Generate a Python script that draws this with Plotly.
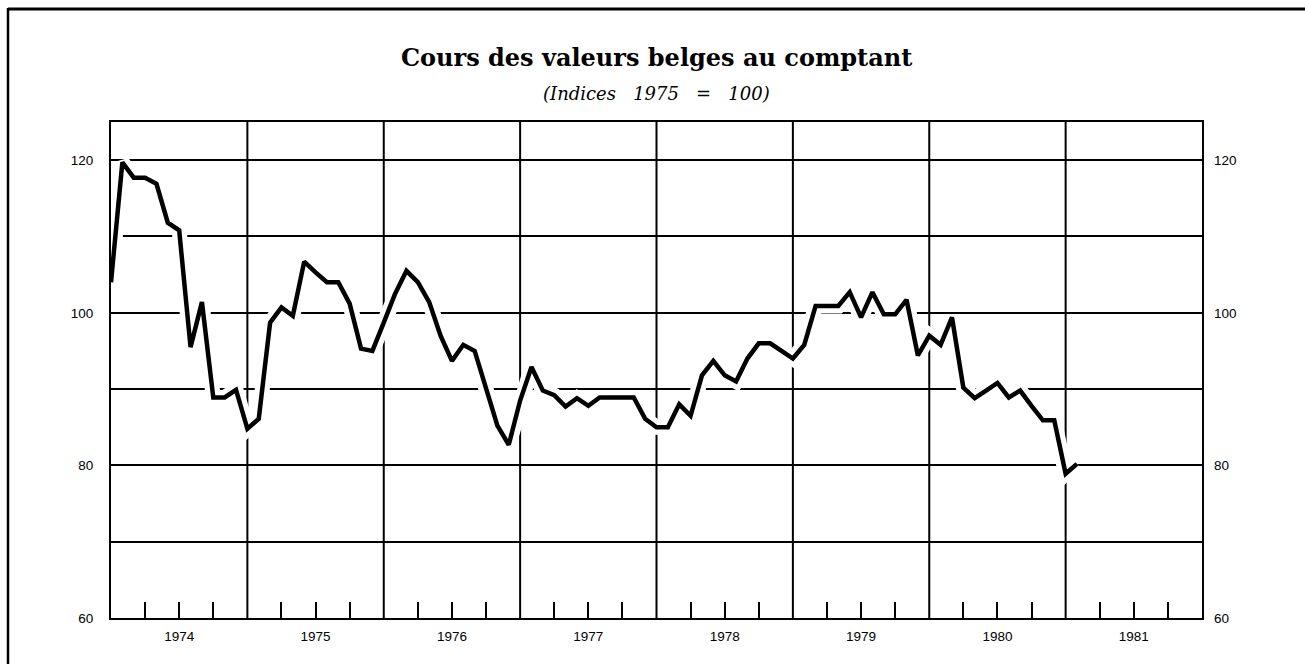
import plotly.graph_objects as go

# Monthly index of Belgian spot share prices (1975 = 100), Jan 1974 - Feb 1981
start_year = 1974
values_1974 = [104.0, 119.7, 117.7, 117.7, 116.9, 111.8, 110.8, 95.5, 101.4, 88.9, 88.9, 89.9]
values_1975 = [84.8, 86.1, 98.7, 100.7, 99.6, 106.7, 105.3, 104.0, 104.0, 101.2, 95.3, 95.0]
values_1976 = [98.7, 102.5, 105.5, 104.0, 101.4, 97.0, 93.7, 95.8, 95.0, 90.0, 85.2, 82.7]
values_1977 = [88.5, 92.9, 89.8, 89.2, 87.7, 88.8, 87.8, 88.9, 88.9, 88.9, 88.9, 86.1]
values_1978 = [85.0, 85.0, 88.0, 86.5, 91.8, 93.7, 91.8, 91.0, 94.0, 96.0, 96.0, 95.0]
values_1979 = [94.0, 95.8, 100.9, 100.9, 100.9, 102.7, 99.4, 102.7, 99.8, 99.8, 101.7, 94.4]
values_1980 = [97.0, 95.8, 99.4, 90.2, 88.8, 89.8, 90.8, 88.9, 89.8, 87.8, 85.9, 85.9]
values_1981 = [78.9, 80.2]

years = [1974, 1975, 1976, 1977, 1978, 1979, 1980, 1981]
y_ticks = [60, 70, 80, 90, 100, 110, 120]
y_labels = ["60", "", "80", "", "100", "", "120"]

values = (values_1974 + values_1975 + values_1976 + values_1977
          + values_1978 + values_1979 + values_1980 + values_1981)
months = [start_year + i / 12 for i in range(len(values))]

X_RANGE = [1974, 1982]
Y_RANGE = [60, 125]

fig = go.Figure()

# white halo that breaks the grid around the curve
fig.add_trace(go.Scatter(x=months, y=values, mode="lines",
                         line=dict(color="white", width=15),
                         hoverinfo="skip", showlegend=False))
fig.add_trace(go.Scatter(x=months, y=values, mode="lines",
                         line=dict(color="black", width=4.5),
                         showlegend=False))
# invisible trace to activate the right-hand axis
fig.add_trace(go.Scatter(x=[months[0]], y=[values[0]], yaxis="y2",
                         mode="markers", marker=dict(opacity=0),
                         hoverinfo="skip", showlegend=False))

shapes = []
# year separators
for yr in years[1:]:
    shapes.append(dict(type="line", xref="x", yref="y", x0=yr, x1=yr,
                       y0=Y_RANGE[0], y1=Y_RANGE[1], layer="below",
                       line=dict(color="black", width=2)))

# page frame: heavy rule on top and a rule down the left side
L, R, T, B = 111, 1202, 122, 618
def px(x):
    return (x - L) / (R - L)
def py(y):
    return (B - y) / (B - T)

shapes.append(dict(type="line", xref="paper", yref="paper",
                   x0=px(8), x1=px(1305), y0=py(9), y1=py(9),
                   line=dict(color="black", width=3)))
shapes.append(dict(type="line", xref="paper", yref="paper",
                   x0=px(8), x1=px(8), y0=py(8), y1=py(664),
                   line=dict(color="black", width=2.5)))

tick_font = dict(family="Liberation Sans, Arial, sans-serif", size=13.5, color="black")

fig.update_layout(
    width=1305, height=664,
    margin=dict(l=L, r=1305 - R, t=T, b=664 - B),
    paper_bgcolor="white", plot_bgcolor="white",
    shapes=shapes,
    xaxis=dict(
        range=X_RANGE,
        tickmode="array",
        tickvals=[y + 0.5 for y in years],
        ticktext=[str(y) for y in years],
        ticks="inside", ticklen=16, tickwidth=2, tickcolor="black",
        minor=dict(tickmode="array",
                   tickvals=[y + q for y in years for q in (0.25, 0.75)],
                   ticks="inside", ticklen=16, tickwidth=2, tickcolor="black",
                   showgrid=False),
        showgrid=False, zeroline=False,
        showline=True, linecolor="black", linewidth=2, mirror=True,
        tickfont=tick_font, ticklabelstandoff=5,
    ),
    yaxis=dict(
        range=Y_RANGE,
        tickmode="array", tickvals=y_ticks, ticktext=y_labels,
        ticks="", showgrid=True, gridcolor="black", gridwidth=1.5,
        zeroline=False,
        showline=True, linecolor="black", linewidth=2, mirror=True,
        tickfont=tick_font, ticklabelstandoff=13,
    ),
    yaxis2=dict(
        range=Y_RANGE, overlaying="y", side="right",
        tickmode="array", tickvals=y_ticks, ticktext=y_labels,
        ticks="", showgrid=False, zeroline=False, showline=False,
        tickfont=tick_font, ticklabelstandoff=11,
    ),
    annotations=[
        dict(text="<b>Cours des valeurs belges au comptant</b>",
             xref="paper", yref="paper", x=0.5, y=py(58),
             xanchor="center", yanchor="middle", showarrow=False,
             font=dict(family="DejaVu Serif, serif",
                       size=24, color="black")),
        dict(text="<i>(Indices   1975   =   100)</i>",
             xref="paper", yref="paper", x=0.5, y=py(93),
             xanchor="center", yanchor="middle", showarrow=False,
             font=dict(family="DejaVu Serif, serif", size=18, color="black")),
    ],
)

fig.write_html("out.html")
